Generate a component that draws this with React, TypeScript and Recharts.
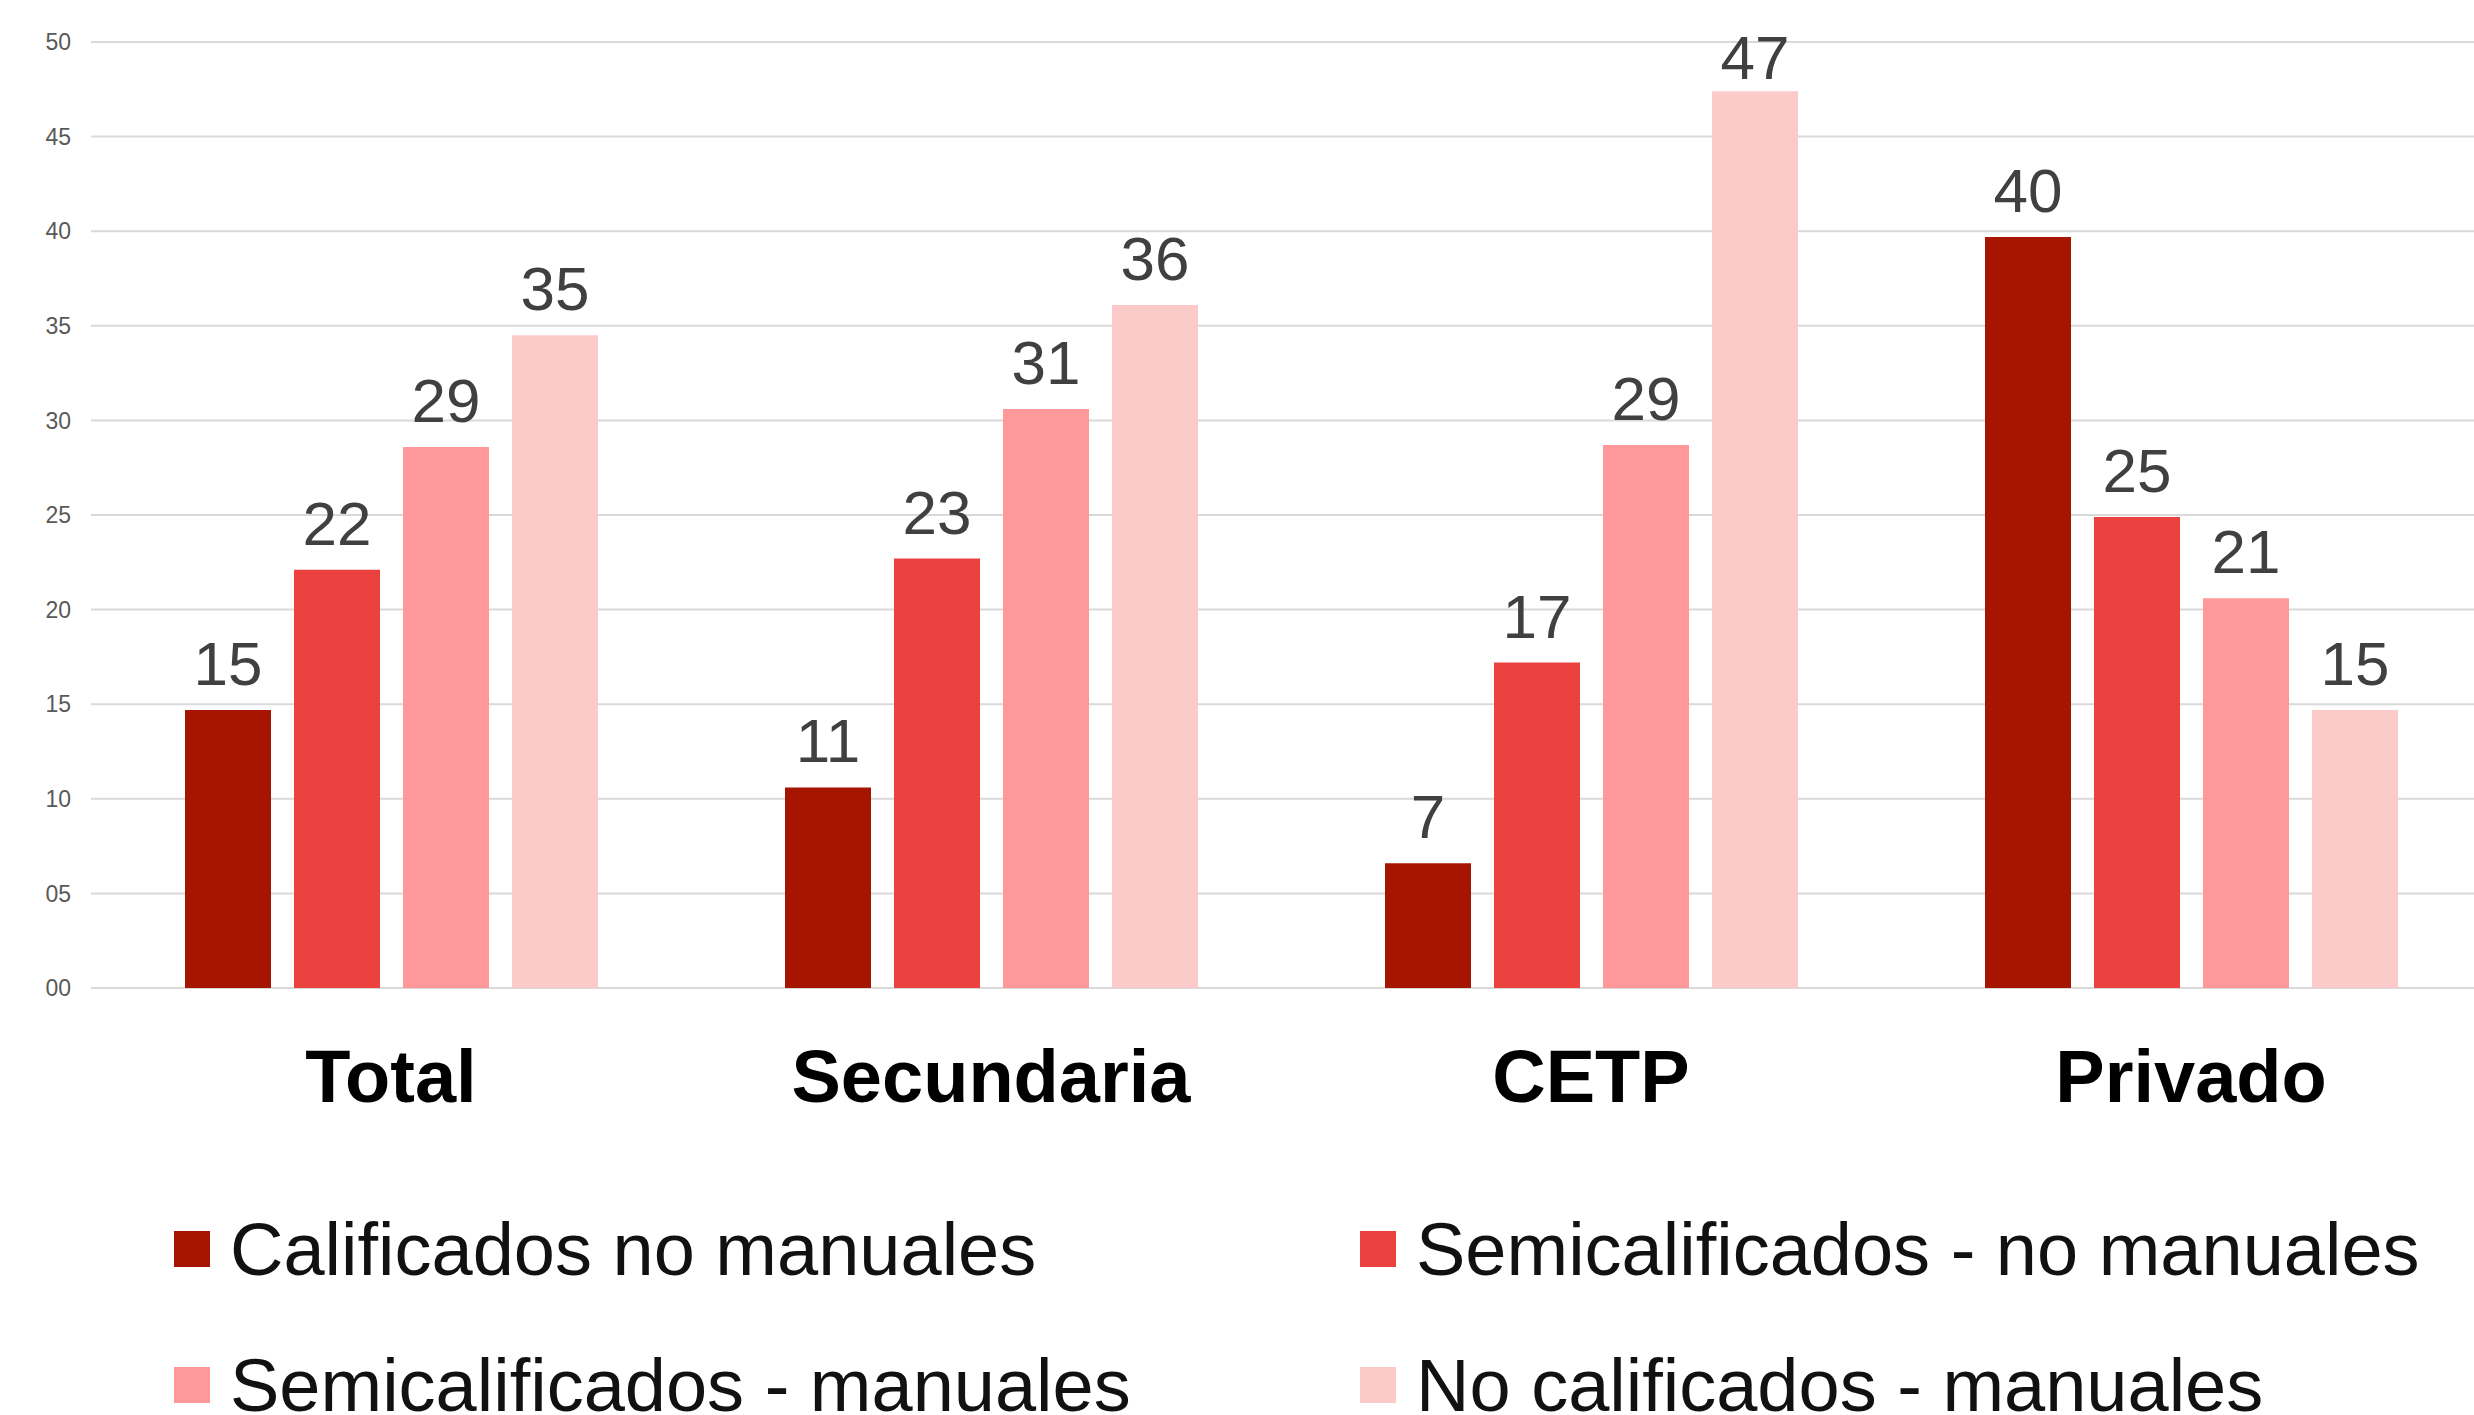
import React from 'react';
import { BarChart, Bar, XAxis, YAxis, CartesianGrid, Legend, LabelList } from 'recharts';

const categories = ['Total', 'Secundaria', 'CETP', 'Privado'];
const seriesNames = [
  'Calificados no manuales',
  'Semicalificados - no manuales',
  'Semicalificados - manuales',
  'No calificados - manuales',
];
const calificadosNoManuales = [14.7, 10.6, 6.6, 39.7];
const semiNoManuales = [22.1, 22.7, 17.2, 24.9];
const semiManuales = [28.6, 30.6, 28.7, 20.6];
const noCalificadosManuales = [34.5, 36.1, 47.4, 14.7];
const yTicks = [0, 5, 10, 15, 20, 25, 30, 35, 40, 45, 50];

const colors = ['#A51500', '#EB4240', '#FF9898', '#FDCACA'];
const keys = ['s0', 's1', 's2', 's3'];
const seriesValues = [calificadosNoManuales, semiNoManuales, semiManuales, noCalificadosManuales];

const data = categories.map((c, i) => {
  const row: any = { name: c };
  keys.forEach((k, j) => {
    row[k] = seriesValues[j][i];
  });
  return row;
});

const FONT = "'Liberation Sans', Arial, Helvetica, sans-serif";

const CategoryTick = (props: any) => {
  const { x, y, payload } = props;
  return (
    <text x={x} y={y + 114} textAnchor="middle" fontFamily={FONT} fontWeight="bold" fontSize={74} fill="#000">
      {payload.value}
    </text>
  );
};

const ValueLabel = (props: any) => {
  const { x, y, width, value } = props;
  const baseline = Math.max(Number(y) - 25, 79);
  return (
    <text x={Number(x) + Number(width) / 2} y={baseline} textAnchor="middle" fontFamily={FONT} fontSize={62} fill="#404040">
      {Math.round(Number(value))}
    </text>
  );
};

const renderLegend = (props: any) => {
  const payload = [...(props.payload || [])].sort(
    (a: any, b: any) => keys.indexOf(a.dataKey) - keys.indexOf(b.dataKey)
  );
  return (
    <div
      style={{
        width: 2474,
        height: 257,
        boxSizing: 'border-box',
        paddingLeft: 174,
        paddingTop: 23,
        display: 'grid',
        gridTemplateColumns: '1186px 1114px',
        gridAutoRows: '136px',
        alignItems: 'center',
        overflow: 'visible',
        fontFamily: FONT,
      }}
    >
      {payload.map((entry: any, i: number) => (
        <div key={i} style={{ display: 'flex', alignItems: 'center', whiteSpace: 'nowrap' }}>
          <div style={{ width: 36, height: 36, background: entry.color, marginRight: 20, flex: 'none' }} />
          <span style={{ fontSize: 74, color: '#111', lineHeight: 'normal' }}>{entry.value}</span>
        </div>
      ))}
    </div>
  );
};

export default function App() {
  return (
    <div style={{ position: 'absolute', left: 0, top: 0, width: 2474, height: 1415, background: '#fff', overflow: 'hidden' }}>
      <BarChart
        width={2474}
        height={1415}
        data={data}
        margin={{ top: 42, right: -17, left: 0, bottom: 0 }}
        barSize={86}
        barGap={23}
      >
        <CartesianGrid vertical={false} stroke="#D9D9D9" strokeWidth={2} />
        <XAxis
          dataKey="name"
          axisLine={false}
          tickLine={false}
          tickSize={0}
          tickMargin={0}
          height={170}
          tick={<CategoryTick />}
          interval={0}
        />
        <YAxis
          domain={[0, 50]}
          ticks={yTicks}
          width={91}
          axisLine={false}
          tickLine={false}
          tickSize={0}
          tickMargin={20}
          tick={{ fontSize: 23, fill: '#595959', fontFamily: FONT }}
          tickFormatter={(v: number) => String(v).padStart(2, '0')}
        />
        <Legend
          verticalAlign="bottom"
          content={renderLegend}
          itemSorter={null as any}
          wrapperStyle={{ left: 0, bottom: 0, width: 2474, height: 257 }}
        />
        {keys.map((k, j) => (
          <Bar key={k} dataKey={k} name={seriesNames[j]} fill={colors[j]} isAnimationActive={false}>
            <LabelList dataKey={k} content={<ValueLabel />} />
          </Bar>
        ))}
      </BarChart>
    </div>
  );
}
